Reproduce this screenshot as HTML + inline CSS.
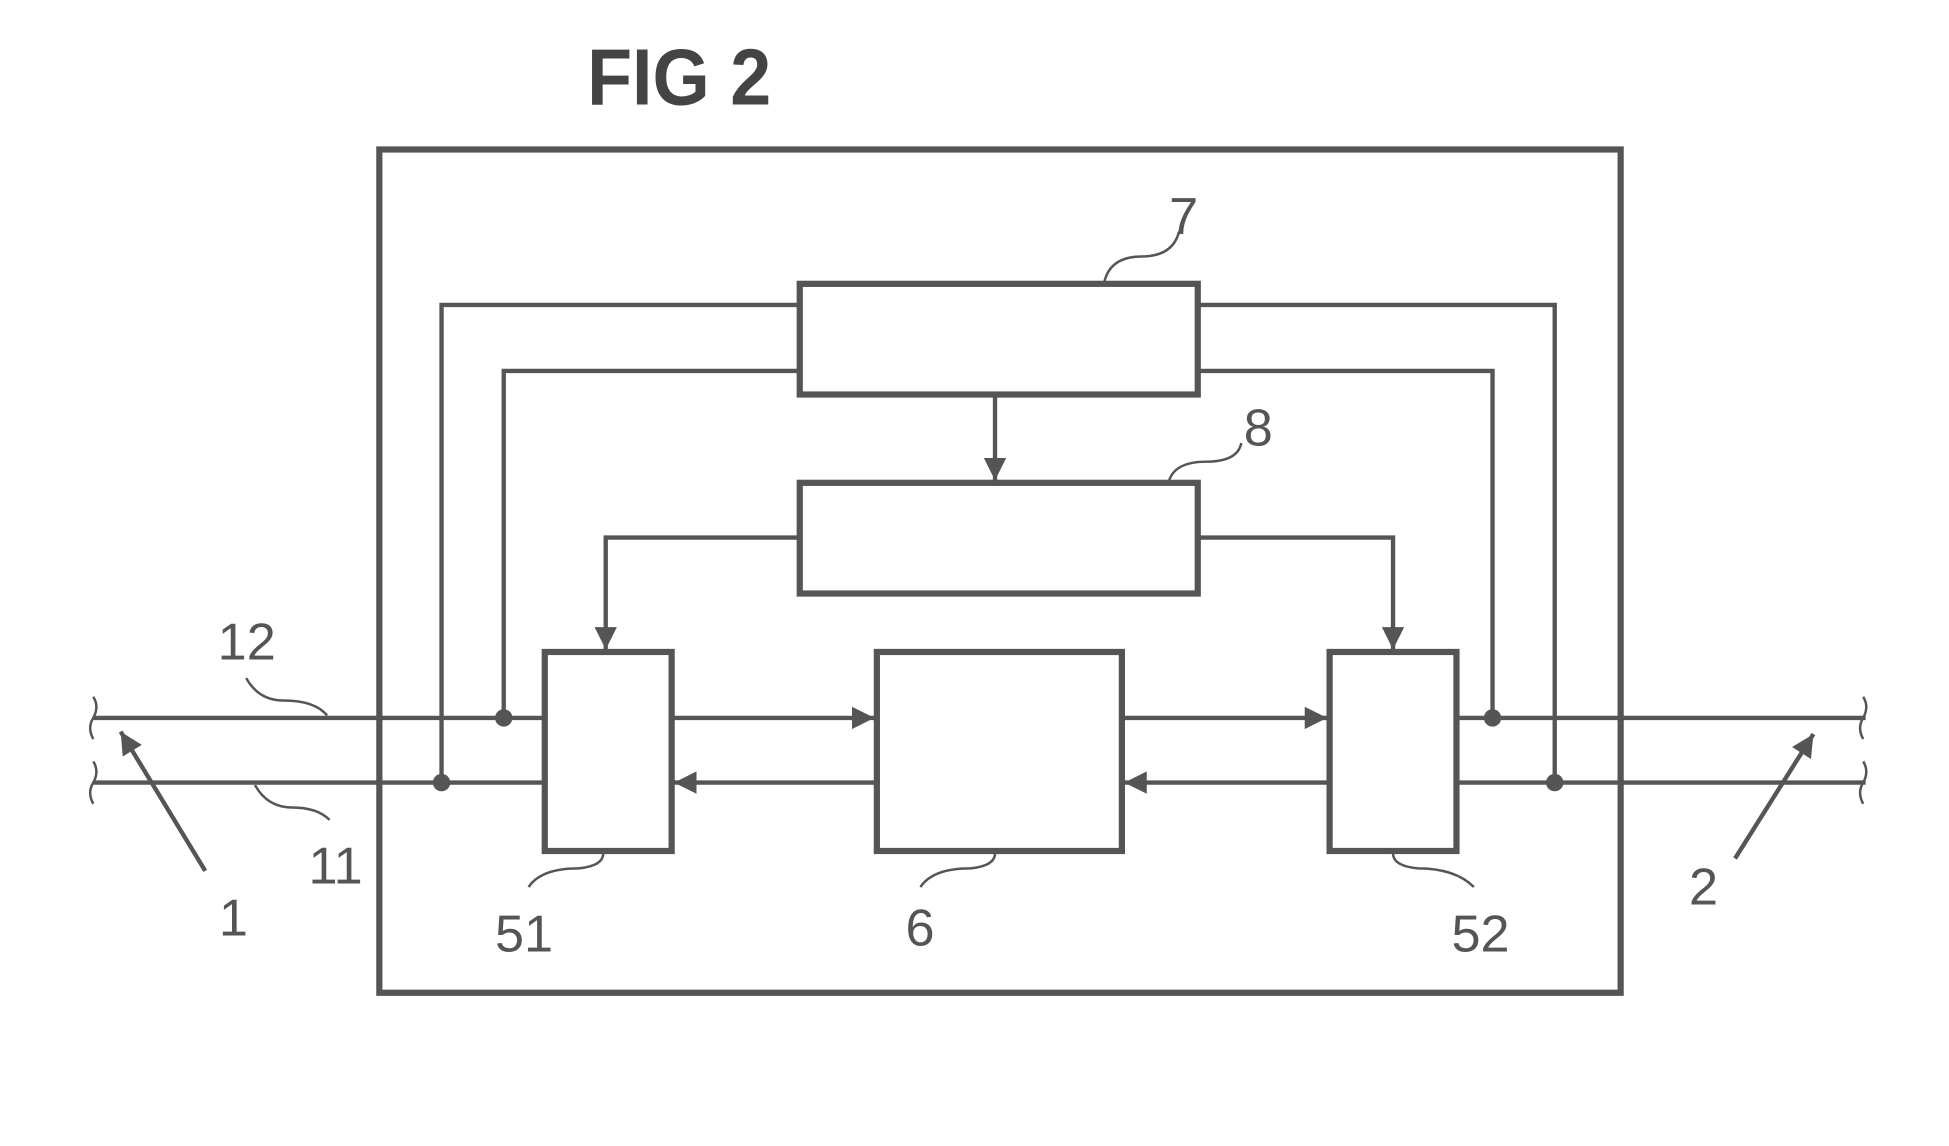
<!DOCTYPE html>
<html><head><style>html,body{margin:0;padding:0;background:#fff}svg{display:block}</style></head>
<body>
<svg width="1949" height="1146" viewBox="0 0 1567 921" xmlns="http://www.w3.org/2000/svg" font-family="Liberation Sans, sans-serif">
<defs>
<marker id="b" viewBox="0 0 10 10" refX="10" refY="5" markerWidth="32" markerHeight="18" orient="auto" markerUnits="userSpaceOnUse"><path d="M0,0 L10,5 L0,10 z" fill="#555"/></marker>
</defs>
<g stroke="#555" fill="none">
<rect x="305" y="120" width="998" height="678" stroke-width="5"/>
<rect x="643" y="228" width="320" height="89" stroke-width="5"/>
<rect x="643" y="388" width="320" height="89" stroke-width="5"/>
<rect x="438" y="524" width="102" height="160" stroke-width="5"/>
<rect x="705" y="524" width="197" height="160" stroke-width="5"/>
<rect x="1069" y="524" width="102" height="160" stroke-width="5"/>
<g stroke-width="3.5">
<path d="M643,245 H355 V629"/><path d="M643,298 H405 V577"/>
<path d="M963,245 H1250 V629"/><path d="M963,298 H1200 V577"/>
<path d="M800,317 V386" marker-end="url(#b)"/>
<path d="M643,432 H487 V522" marker-end="url(#b)"/>
<path d="M963,432 H1120 V522" marker-end="url(#b)"/>
<path d="M75,577 H438"/><path d="M540,577 H703" marker-end="url(#b)"/>
<path d="M902,577 H1067" marker-end="url(#b)"/><path d="M1171,577 H1500"/>
<path d="M75,629 H438"/><path d="M705,629 H542" marker-end="url(#b)"/>
<path d="M1069,629 H904" marker-end="url(#b)"/><path d="M1171,629 H1500"/>
<path d="M165,700 L97,588" marker-end="url(#b)"/>
<path d="M1395,690 L1458,590" marker-end="url(#b)"/>
<path d="M75,560 q5,8 0,17 q-5,8 0,17 M75,612 q5,8 0,17 q-5,8 0,17 M1498,560 q5,8 0,17 q-5,8 0,17 M1498,612 q5,8 0,17 q-5,8 0,17" stroke-width="2"/>
</g>
<g stroke-width="2">
<path d="M888,226 q5,-20 30,-20 q25,0 30,-20"/>
<path d="M940,386 q5,-15 30,-15 q25,0 28,-15"/>
<path d="M198,545 q10,18 30,18 q25,0 35,12"/>
<path d="M205,631 q10,18 30,18 q20,0 30,10"/>
<path d="M485,686 q0,10 -20,12 q-30,0 -40,15"/>
<path d="M800,686 q0,10 -20,12 q-30,0 -40,15"/>
<path d="M1120,686 q0,10 20,12 q30,0 45,15"/>
</g>
</g>
<g fill="#555">
<circle cx="355" cy="629" r="7"/><circle cx="405" cy="577" r="7"/>
<circle cx="1250" cy="629" r="7"/><circle cx="1200" cy="577" r="7"/>
</g>
<g fill="#555" font-size="42">
<text x="472" y="84" font-size="64" font-weight="bold" fill="#444" textLength="148" lengthAdjust="spacingAndGlyphs">FIG 2</text>
<text x="940" y="188">7</text>
<text x="1000" y="358">8</text>
<text x="175" y="530">12</text>
<text x="248" y="710">11</text>
<text x="176" y="752">1</text>
<text x="398" y="765">51</text>
<text x="728" y="760">6</text>
<text x="1167" y="765">52</text>
<text x="1358" y="727">2</text>
</g>
</svg>
</body></html>
